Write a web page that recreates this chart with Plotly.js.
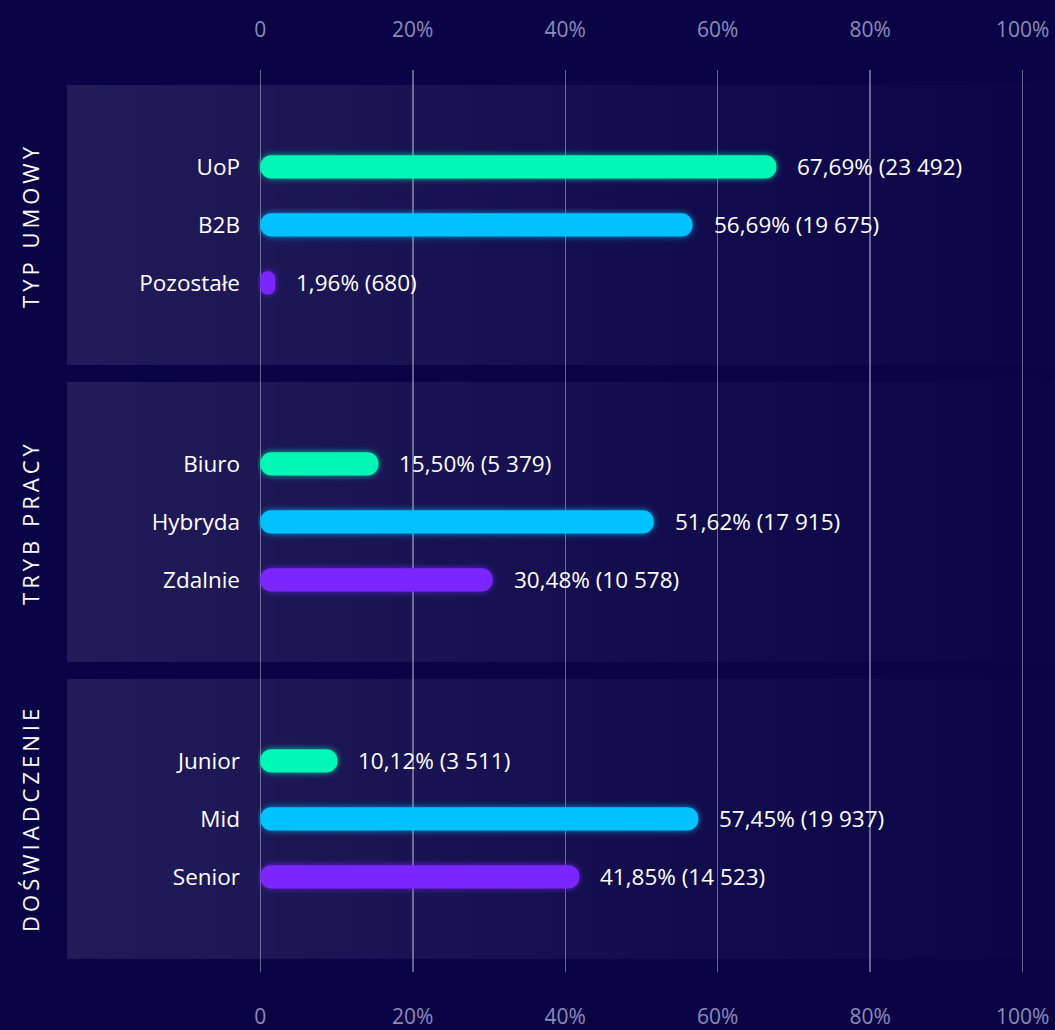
<!DOCTYPE html>
<html><head><meta charset="utf-8">
<script src="https://cdn.plot.ly/plotly-3.0.1.min.js"></script>
<style>html,body{margin:0;padding:0;background:#0a0447;}</style>
</head><body>
<svg width="0" height="0" style="position:absolute">
  <defs>
    <filter id="glow" x="-5%" y="-5%" width="110%" height="110%">
      <feGaussianBlur in="SourceGraphic" stdDeviation="3.2" result="blur"/>
      <feComponentTransfer in="blur" result="soft"><feFuncA type="linear" slope="0.75"/></feComponentTransfer>
      <feMerge><feMergeNode in="soft"/><feMergeNode in="SourceGraphic"/></feMerge>
    </filter>
  </defs>
</svg>
<div id="chart" style="width:1055px;height:1030px"></div>
<script>
// ---- data ----
const groups = ["TYP UMOWY", "TRYB PRACY", "DOŚWIADCZENIE"];
const categories = [["UoP", "B2B", "Pozostałe"], ["Biuro", "Hybryda", "Zdalnie"], ["Junior", "Mid", "Senior"]];
const percents = [[67.69, 56.69, 1.96], [15.50, 51.62, 30.48], [10.12, 57.45, 41.85]];
const counts = [[23492, 19675, 680], [5379, 17915, 10578], [3511, 19937, 14523]];
const tickValues = [0, 20, 40, 60, 80, 100];
const tickLabels = ["0", "20%", "40%", "60%", "80%", "100%"];
const barColors = ["#00f7b5", "#00c2ff", "#7b27ff"];

// ---- layout helpers ----
const W = 1055, H = 1030;
const M = {l: 258, r: 30, t: 70, b: 58};
const X_RANGE = [-0.3, 100.3];
const BAR_PX = 23.2;
const GROUP_STEP = 5.12;
const Y_RANGE = [13.88, -1.672];
const BAR_W = BAR_PX / 58;               // bar thickness in y units (58 px per unit)
const PANEL_HALF = 2.414;
const paperX = px => (px - M.l) / (W - M.l - M.r);
const paperY = yv => (Y_RANGE[0] - yv) / (Y_RANGE[0] - Y_RANGE[1]);

const ys = [], xs = [], bases = [], cols = [], tickV = [], tickT = [];
const annotations = [], images = [];
groups.forEach((g, gi) => {
  categories[gi].forEach((c, i) => {
    const v = percents[gi][i];
    const y = gi * GROUP_STEP + i;
    ys.push(y); xs.push(v); bases.push(0); cols.push(barColors[i]);
    tickV.push(y); tickT.push(c);
    const pct = v.toFixed(2).replace('.', ',');
    const cnt = String(counts[gi][i]).replace(/\B(?=(\d{3})+(?!\d))/g, ' ');
    annotations.push({
      x: v, y: y, xref: 'x', yref: 'y', xanchor: 'left', yanchor: 'middle',
      xshift: 19, text: pct + '% (' + cnt + ')', showarrow: false,
      font: {family: 'Open Sans', size: 22.5, color: '#ffffff'}
    });
  });
  const center = gi * GROUP_STEP + 1;
  annotations.push({
    x: paperX(30), y: paperY(center), xref: 'paper', yref: 'paper',
    xanchor: 'center', yanchor: 'middle', textangle: -90, text: g, showarrow: false,
    font: {family: 'Open Sans', size: 22, color: '#ffffff'}
  });
  const svg = "<svg xmlns='http://www.w3.org/2000/svg' width='100' height='100' preserveAspectRatio='none'>" +
    "<defs><linearGradient id='g' x1='0' y1='0' x2='1' y2='0'>" +
    "<stop offset='0' stop-color='#ffffff' stop-opacity='0.095'/>" +
    "<stop offset='0.6' stop-color='#ffffff' stop-opacity='0.035'/>" +
    "<stop offset='1' stop-color='#ffffff' stop-opacity='0.005'/></linearGradient></defs>" +
    "<rect width='100' height='100' fill='url(#g)'/></svg>";
  images.push({
    source: 'data:image/svg+xml;charset=utf-8,' + encodeURIComponent(svg),
    xref: 'paper', yref: 'paper', x: paperX(67), y: paperY(center - PANEL_HALF),
    sizex: paperX(1055) - paperX(67), sizey: paperY(center - PANEL_HALF) - paperY(center + PANEL_HALF),
    xanchor: 'left', yanchor: 'top', sizing: 'stretch', layer: 'below'
  });
});

const traces = [{
  type: 'bar', orientation: 'h', x: xs, base: bases, y: ys, width: BAR_W,
  marker: {color: cols, cornerradius: 12, line: {width: 0}},
  hoverinfo: 'skip', showlegend: false
}, {
  type: 'scatter', mode: 'markers', x: [], y: [], xaxis: 'x2', yaxis: 'y',
  hoverinfo: 'skip', showlegend: false
}];

const tickFont = {family: 'Open Sans', size: 21, color: '#8d8ab8'};
const layout = {
  width: W, height: H, margin: M,
  paper_bgcolor: '#0a0447', plot_bgcolor: 'rgba(0,0,0,0)',
  showlegend: false, barmode: 'overlay',
  xaxis: {
    range: X_RANGE, tickvals: tickValues, ticktext: tickLabels, side: 'bottom',
    showgrid: true, gridcolor: 'rgba(255,255,255,0.38)', gridwidth: 1.5,
    zeroline: false, showline: false, ticks: '', ticklabelstandoff: 30,
    tickfont: tickFont, fixedrange: true
  },
  xaxis2: {
    range: X_RANGE, tickvals: tickValues, ticktext: tickLabels, side: 'top',
    overlaying: 'x', anchor: 'y', showgrid: false, zeroline: false, showline: false,
    ticks: '', ticklabelstandoff: 28, tickfont: tickFont, fixedrange: true
  },
  yaxis: {
    range: Y_RANGE, tickvals: tickV, ticktext: tickT, showgrid: false, zeroline: false,
    showline: false, ticks: '', ticklabelstandoff: 17,
    tickfont: {family: 'Open Sans', size: 22.5, color: '#ffffff'}, fixedrange: true
  },
  annotations: annotations, images: images
};

Plotly.newPlot('chart', traces, layout, {staticPlot: true}).then(gd => {
  const target = gd.querySelector('.subplot.xy .plot') || gd.querySelector('.barlayer');
  if (target) target.style.filter = 'url(#glow)';
  gd.querySelectorAll('.annotation text').forEach(t => {
    if (groups.indexOf(t.textContent) >= 0) t.style.letterSpacing = '4px';
  });
});
</script>
</body></html>
